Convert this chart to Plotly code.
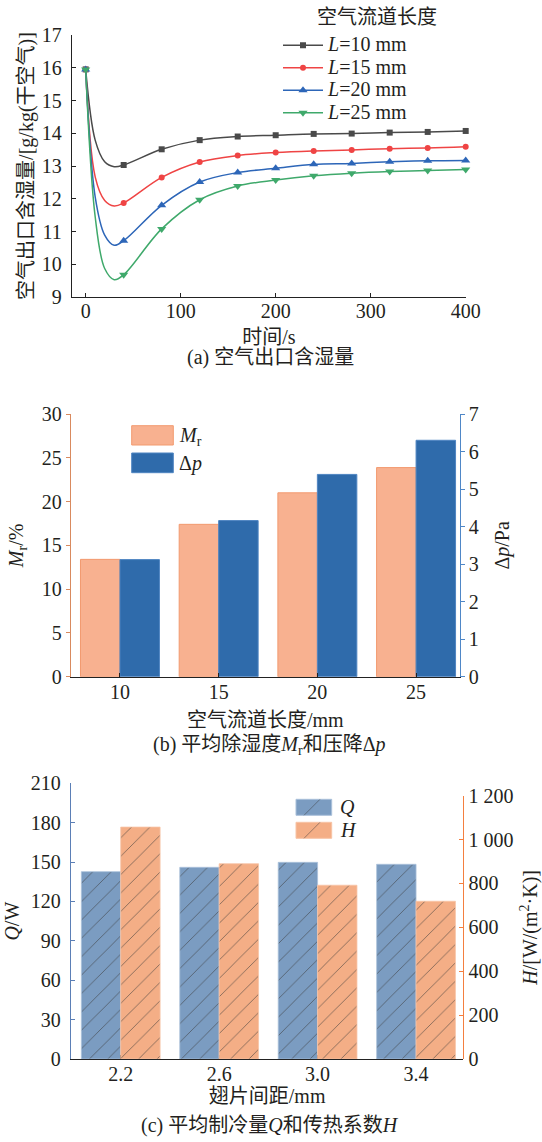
import plotly.graph_objects as go

# ---------------- data ----------------
# (a) outlet humidity ratio vs time
t_curve = [0, 10, 20, 30, 40, 80, 120, 160, 200, 240, 280, 320, 360, 400]
L10 = [15.95, 13.79, 13.13, 12.98, 13.03, 13.51, 13.79, 13.90, 13.94, 13.98, 13.99, 14.02, 14.04, 14.07]
L15 = [15.95, 12.67, 11.95, 11.78, 11.87, 12.65, 13.12, 13.32, 13.41, 13.46, 13.49, 13.53, 13.55, 13.59]
L20 = [15.95, 12.06, 10.89, 10.58, 10.72, 11.80, 12.51, 12.80, 12.93, 13.05, 13.08, 13.13, 13.16, 13.17]
L25 = [15.95, 11.45, 9.87, 9.53, 9.68, 11.08, 11.97, 12.39, 12.57, 12.70, 12.78, 12.83, 12.86, 12.89]
marker_step = 40
series_names = ["<i>L</i>=10 mm", "<i>L</i>=15 mm", "<i>L</i>=20 mm", "<i>L</i>=25 mm"]
x_ticks_a = [0, 100, 200, 300, 400]

# (b) mean dehumidification and pressure drop
lengths = [10, 15, 20, 25]
Mr = [13.4, 17.4, 21.0, 23.88]
dp = [3.12, 4.16, 5.39, 6.30]

# (c) mean cooling capacity and heat transfer coefficient
spacing = [2.2, 2.6, 3.0, 3.4]
spacing_labels = ["2.2", "2.6", "3.0", "3.4"]
Q = [142.7, 146.0, 149.8, 148.3]
Hc = [1057, 890, 792, 719]
H_ticks = [0, 200, 400, 600, 800, 1000, 1200]
H_ticktext = ["0", "200", "400", "600", "800", "1 000", "1 200"]

# ---------------- helpers ----------------
W, H = 542, 1142
def px(x):
    return x / W
def py(y):
    return 1 - y / H

FONT = "Liberation Serif, Noto Sans CJK SC, serif"
TXT = "#231f20"
FS = 20

fig = go.Figure()

# ---------------- (a) ----------------
styles = [
    dict(color="#4a4a4a", symbol="square", size=6),
    dict(color="#ef4444", symbol="circle", size=6),
    dict(color="#2d66b8", symbol="triangle-up", size=8),
    dict(color="#3fa96b", symbol="triangle-down", size=8),
]
for name, vals, st in zip(series_names, [L10, L15, L20, L25], styles):
    fig.add_trace(go.Scatter(
        x=t_curve, y=vals, mode="lines", line=dict(color=st["color"], width=1.5, shape="spline", smoothing=1.0),
        xaxis="x", yaxis="y", showlegend=False, hoverinfo="skip", cliponaxis=False))
    mx = [t for t in t_curve if t % marker_step == 0]
    my = [v for t, v in zip(t_curve, vals) if t % marker_step == 0]
    fig.add_trace(go.Scatter(
        x=mx, y=my, mode="markers",
        marker=dict(color=st["color"], symbol=st["symbol"], size=st["size"]),
        xaxis="x", yaxis="y", showlegend=False, cliponaxis=False))
    fig.add_trace(go.Scatter(
        x=[None], y=[None], mode="lines+markers",
        name='<span style="font-size:20px">' + name + "</span>",
        line=dict(color=st["color"], width=1.5),
        marker=dict(color=st["color"], symbol=st["symbol"], size=st["size"]),
        xaxis="x", yaxis="y", legend="legend"))

# ---------------- (b) ----------------
fig.add_trace(go.Bar(x=lengths, y=Mr, xaxis="x2", yaxis="y2", width=2.0, offset=-2.0,
                     marker=dict(color="#f8b190", line=dict(color="#f29a6f", width=1)),
                     showlegend=False))
fig.add_trace(go.Bar(x=lengths, y=dp, xaxis="x2", yaxis="y3", width=2.0, offset=0.0,
                     marker=dict(color="#2f6bab", line=dict(color="#4f85c2", width=1)),
                     showlegend=False))

# ---------------- (c) ----------------
def pattern(bg):
    return dict(shape="/", fgcolor="#3a3a3a", fgopacity=0.7, bgcolor=bg, size=13, solidity=0.06,
                fillmode="replace")
fig.add_trace(go.Bar(x=spacing, y=Q, xaxis="x3", yaxis="y4", width=0.16, offset=-0.16,
                     marker=dict(color="#7b9cc1", line=dict(color="#a9c0da", width=0.8),
                                 pattern=pattern("#7b9cc1")),
                     showlegend=False))
fig.add_trace(go.Bar(x=spacing, y=Hc, xaxis="x3", yaxis="y5", width=0.16, offset=0.0,
                     marker=dict(color="#f4ae86", line=dict(color="#f7c4a6", width=0.8),
                                 pattern=pattern("#f4ae86")),
                     showlegend=False))

axis_common = dict(showgrid=False, zeroline=False, showline=True, ticklen=4, tickwidth=1.2,
                   tickfont=dict(size=FS, color=TXT, family=FONT), automargin=False)

fig.update_layout(
    width=W, height=H, margin=dict(l=0, r=0, t=0, b=0),
    paper_bgcolor="white", plot_bgcolor="rgba(0,0,0,0)",
    font=dict(family=FONT, size=FS, color=TXT),
    barmode="overlay",
    xaxis=dict(axis_common, domain=[px(72), px(465.7)], range=[-14.4, 400], tickvals=x_ticks_a,
               ticks="inside", linecolor="#222", linewidth=1.4, tickcolor="#222", anchor="y",
               ticklabelstandoff=-4,
               title=dict(text="时间/s", standoff=8, font=dict(size=FS))),
    yaxis=dict(axis_common, domain=[py(297), py(35)], range=[9, 17], dtick=1,
               ticks="inside", linecolor="#222", linewidth=1.4, tickcolor="#222", anchor="x",
               ticklabelstandoff=5,
               title=dict(text="空气出口含湿量/[g/kg(干空气)]", standoff=2, font=dict(size=FS))),
    xaxis2=dict(axis_common, domain=[px(71), px(459.5)], range=[7.52, 27.2], tickvals=lengths,
                ticks="inside", linecolor="#222", linewidth=1.4, tickcolor="#222", anchor="y2",
                ticklabelstandoff=-3,
                title=dict(text="空气流道长度/mm", standoff=11, font=dict(size=FS))),
    yaxis2=dict(axis_common, domain=[py(676.7), py(414)], range=[0, 30], dtick=5,
                ticks="outside", linecolor="#d98a5e", linewidth=1.4, tickcolor="#d98a5e", anchor="x2",
                title=dict(text="<i>M</i><sub>r</sub>/%", standoff=12, font=dict(size=FS))),
    yaxis3=dict(axis_common, overlaying="y2", side="right", range=[0, 7], dtick=1,
                ticks="outside", linecolor="#4f87c7", linewidth=1.4, tickcolor="#4f87c7", anchor="x2",
                title=dict(text="Δ<i>p</i>/Pa", standoff=17, font=dict(size=FS))),
    xaxis3=dict(axis_common, domain=[px(71), px(463.3)], range=[1.998, 3.592], tickvals=spacing,
                ticktext=spacing_labels, ticks="inside", linecolor="#222", linewidth=1.4, tickcolor="#222",
                anchor="y4", ticklabelstandoff=-3,
                title=dict(text="翅片间距/mm", standoff=4, font=dict(size=FS))),
    yaxis4=dict(axis_common, domain=[py(1059), py(783.3)], range=[0, 210], dtick=30,
                ticks="inside", linecolor="#5b7fb6", linewidth=1.4, tickcolor="#5b7fb6", anchor="x3",
                ticklabelstandoff=5,
                title=dict(text="<i>Q</i>/W", standoff=5, font=dict(size=FS))),
    yaxis5=dict(axis_common, domain=[py(1059), py(795.7)], range=[0, 1200], tickvals=H_ticks,
                ticktext=H_ticktext, side="right",
                ticks="inside", linecolor="#f47f3f", linewidth=1.4, tickcolor="#f47f3f", anchor="x3",
                title=dict(text="<i>H</i>/[W/(m<sup>2</sup>·K)]", standoff=12, font=dict(size=FS))),
    legend=dict(x=px(278), y=py(29), xanchor="left", yanchor="top", bgcolor="rgba(0,0,0,0)",
                font=dict(size=15, family=FONT, color=TXT), tracegroupgap=0, itemwidth=40),
)

annotations = [
    dict(text="空气流道长度", x=px(377), y=py(17)),
    dict(text="(a) 空气出口含湿量", x=px(270), y=py(357)),
    dict(text="(b) 平均除湿度<i>M</i><sub>r</sub>和压降Δ<i>p</i>", x=px(269), y=py(745)),
    dict(text="(c) 平均制冷量<i>Q</i>和传热系数<i>H</i>", x=px(270), y=py(1125)),
    dict(text="<i>M</i><sub>r</sub>", x=px(177), y=py(436), xanchor="left"),
    dict(text="Δ<i>p</i>", x=px(177), y=py(463), xanchor="left"),
    dict(text="<i>Q</i>", x=px(338), y=py(807), xanchor="left"),
    dict(text="<i>H</i>", x=px(338), y=py(830), xanchor="left"),
]
for a in annotations:
    a.setdefault("xanchor", "center")
    fig.add_annotation(xref="paper", yref="paper", showarrow=False, yanchor="middle",
                       font=dict(size=FS, family=FONT, color=TXT), **a)

# legend swatches for the bar panels
shapes = [
    dict(x0=131.7, x1=173.3, y0=425.7, y1=445, fill="#f8b190", line="#f29a6f"),
    dict(x0=131.7, x1=173.3, y0=453, y1=472.7, fill="#2f6bab", line="#4f85c2"),
    dict(x0=296, x1=331.7, y0=799.3, y1=815.3, fill="#7b9cc1", line="#a9c0da"),
    dict(x0=296, x1=331.7, y0=822.3, y1=838.3, fill="#f4ae86", line="#f7c4a6"),
]
for s in shapes:
    fig.add_shape(type="rect", xref="paper", yref="paper",
                  x0=px(s["x0"]), x1=px(s["x1"]), y0=py(s["y1"]), y1=py(s["y0"]),
                  fillcolor=s["fill"], line=dict(color=s["line"], width=1))
for s in shapes[2:]:
    fig.add_shape(type="line", xref="paper", yref="paper",
                  x0=px(s["x0"] + 8), x1=px(s["x0"] + 24), y0=py(s["y1"]), y1=py(s["y0"]),
                  line=dict(color="rgba(58,58,58,0.6)", width=0.8))

# remove the browser's default 8px body margin so the figure sits at the page origin
fig.write_html("out.html", config={"displayModeBar": False},
               post_script="document.body.style.margin='0px';")
